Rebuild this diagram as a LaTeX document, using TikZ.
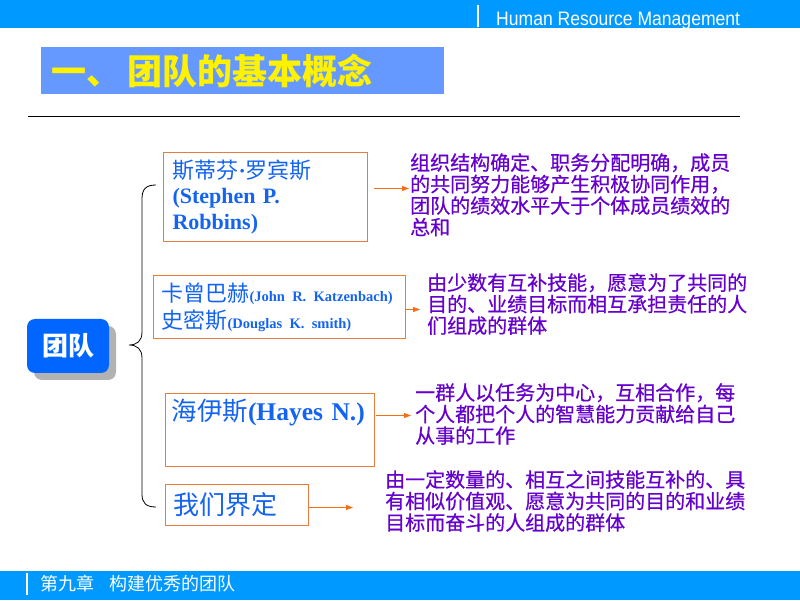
\documentclass[tikz,border=0pt]{standalone}
\usepackage{fontspec}
\setmainfont{Noto Sans CJK SC}
\newfontfamily\enfont{Liberation Serif}
\newfontfamily\hdfont[FakeStretch=0.9]{Liberation Sans}
\newfontfamily\ftfont{Noto Sans CJK SC}
\newfontfamily\deffont[FakeBold=0.6]{Noto Sans CJK SC}
\newcommand{\enb}{\enfont\bfseries}
\frenchspacing
\usetikzlibrary{positioning, arrows.meta, shadows}

\definecolor{barblue}{RGB}{0,153,255}
\definecolor{titleblue}{RGB}{102,153,255}
\definecolor{teamblue}{RGB}{0,102,255}
\definecolor{nameblue}{RGB}{20,100,240}
\definecolor{defpurple}{RGB}{102,0,204}
\definecolor{boxorange}{RGB}{230,125,60}
\definecolor{arrorange}{RGB}{245,110,20}

\begin{document}
\begin{tikzpicture}[x=1pt,y=1pt,>={Triangle[length=7pt,width=5pt]},
        name box/.style={draw=boxorange,line width=1pt,anchor=north west,align=left,text=nameblue,inner ysep=0pt},
        def text/.style={anchor=north west,align=left,inner sep=0pt,text=defpurple,font=\deffont\fontsize{20}{21.5}\selectfont},
        arr/.style={->,arrorange,line width=0.9pt}]
    \useasboundingbox (0,0) rectangle (800,600);

    % header and footer bars
    \fill[barblue] (0,572) rectangle (800,600);
    \draw[white,line width=1.5pt] (478,595) -- (478,573);
    \node[anchor=base west,inner sep=0pt,text=white,font=\hdfont\fontsize{19.5}{20}\selectfont] (hd) at (496,574) {Human Resource Management};
    \fill[barblue] (0,0) rectangle (800,29);
    \draw[white,line width=1.5pt] (27,27) -- (27,5);
    \node[anchor=west,inner sep=0pt,text=white,font=\ftfont\fontsize{18}{19}\selectfont] (ft) at (40,16) {第九章\hspace{15pt}构建优秀的团队};

    % title
    \node[fill=titleblue,anchor=north west,minimum width=403,minimum height=47,text width=383,inner xsep=10,align=left,
        text=yellow,font=\bfseries\fontsize{35}{36}\selectfont] (title) at (41,553) {一、\hspace{6pt}团队的基本概念};
    \draw[line width=1pt] (28,483) -- (740,483);

    % team
    \node[fill=teamblue,rounded corners=8pt,minimum width=82,minimum height=54,text=white,font=\bfseries\fontsize{26}{26}\selectfont,
        drop shadow={shadow xshift=7pt,shadow yshift=-7pt,fill=black!30,opacity=1}] (team) at (68,254) {团队};
    \draw[line width=0.8pt] (156,415) .. controls (146,415) and (142,411) .. (142,401) -- (142,268)
        .. controls (142,259) and (137,255) .. (129,255) .. controls (137,255) and (142,251) .. (142,242)
        -- (142,106) .. controls (142,97) and (146,93) .. (156,93);

    % definitions
    \node[name box,minimum width=204,minimum height=89,text width=186,inner xsep=9,font=\fontsize{22}{25.5}\selectfont] (b1) at (163,448)
        {斯蒂芬{\enb ·}罗宾斯\\{\enb (Stephen P.}\\{\enb Robbins)}};
    \node[name box,minimum width=252,minimum height=63,text width=236,inner xsep=8,font=\fontsize{22}{27}\selectfont] (b2) at (153,325)
        {卡曾巴赫{\enb\fontsize{14.5}{27}\selectfont (John R. Katzenbach)}\\史密斯{\enb\fontsize{14.5}{27}\selectfont (Douglas K. smith)}};
    \node[name box,minimum width=209,minimum height=73,text width=197,inner xsep=6,inner ysep=5,text height=22,text depth=41,
        font=\fontsize{25.5}{27}\selectfont] (b3) at (165,207) {海伊斯{\enb (Hayes N.)}};
    \node[name box,minimum width=143,minimum height=41,text width=127,inner xsep=8,font=\fontsize{26}{27}\selectfont] (b4) at (165,116) {我们界定};

    \node[def text] (d1) at (410,447) {组织结构确定、职务分配明确，成员\\的共同努力能够产生积极协同作用，\\团队的绩效水平大于个体成员绩效的\\总和};
    \node[def text] (d2) at (427,327) {由少数有互补技能，愿意为了共同的\\目的、业绩目标而相互承担责任的人\\们组成的群体};
    \node[def text] (d3) at (415,217) {一群人以任务为中心，互相合作，每\\个人都把个人的智慧能力贡献给自己\\从事的工作};
    \node[def text] (d4) at (385,130) {由一定数量的、相互之间技能互补的、具\\有相似价值观、愿意为共同的目的和业绩\\目标而奋斗的人组成的群体};

    \coordinate (a1) at ([shift={(6,8.5)}]b1.east);
    \coordinate (a2) at ([shift={(0,-2.5)}]b2.east);
    \coordinate (a3) at ([shift={(1,14.5)}]b3.east);
    \coordinate (a4) at ([shift={(0,-2.5)}]b4.east);
    \coordinate (e4) at ([xshift=44pt]a4);
    \draw[arr,shorten >=1pt] (a1) -- (a1 -| d1.west);
    \draw[arr,shorten >=7pt] (a2) -- (a2 -| d2.west);
    \draw[arr,shorten >=4pt] (a3) -- (a3 -| d3.west);
    \draw[arr] (a4) -- (e4);
\end{tikzpicture}
\end{document}
